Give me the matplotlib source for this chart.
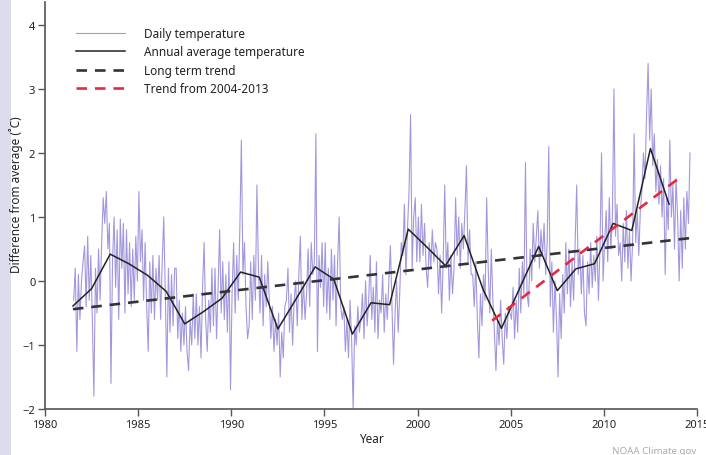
import numpy as np
import matplotlib
matplotlib.use('Agg')
import matplotlib.pyplot as plt
from matplotlib.patches import Rectangle

plt.rcParams['font.family'] = ['Noto Sans', 'DejaVu Sans']

# Monthly readings of the daily temperature anomaly (deg C)
# 1981 starts in July, 2014 ends in August
daily_1981 = [-0.3, 0.2, -1.1, 0.1, -0.6, 0.0]
daily_1982 = [0.3, 0.55, -0.4, 0.7, -0.3, 0.4, -0.6, -1.8, 0.2, -0.5, 0.5, -0.3]
daily_1983 = [0.6, 1.3, 0.9, 1.4, 0.5, 0.9, -1.6, 0.3, 1.0, -0.1, 0.8, -0.6]
daily_1984 = [0.97, 0.2, 0.9, -0.5, 0.8, -0.2, 0.6, -0.4, 0.5, -0.3, 0.7, 0.0]
daily_1985 = [1.4, 0.3, 0.8, -0.3, 0.6, -0.4, -1.1, 0.3, -0.5, 0.4, -0.6, 0.2]
daily_1986 = [-0.3, 0.4, -0.6, 0.3, 1.0, -0.2, -1.5, 0.2, -0.8, 0.1, -0.7, 0.2]
daily_1987 = [0.2, -0.9, -0.3, -1.1, -0.5, -1.0, -0.4, -1.1, -1.4, -0.6, -1.0, -0.2]
daily_1988 = [-0.9, -0.2, -1.0, -0.4, -1.2, -0.1, 0.6, -0.6, -1.1, -0.3, -0.8, 0.2]
daily_1989 = [-0.7, 0.2, -0.9, -0.1, 0.8, -0.5, 0.3, -0.6, 0.1, -0.8, 0.3, -1.7]
daily_1990 = [-0.2, 0.6, -0.5, 0.4, -0.3, 0.8, 2.2, 0.1, 0.6, -0.4, -0.9, -0.7]
daily_1991 = [0.3, -0.6, 0.4, -0.3, 1.5, 0.2, -0.5, 0.4, -0.7, 0.1, -0.4, 0.3]
daily_1992 = [-0.3, -0.9, -0.4, -1.1, -0.6, -1.0, -0.5, -1.5, -0.8, -1.2, -0.4, -0.3]
daily_1993 = [0.2, -0.8, -0.2, -1.0, -0.3, 0.0, -0.7, 0.1, 0.7, -0.6, 0.0, -0.6]
daily_1994 = [-0.2, 0.5, -0.4, 0.6, 0.1, 0.3, 2.3, -1.1, 0.4, -0.1, 0.6, -0.4]
daily_1995 = [0.6, -0.5, 0.2, -0.6, 0.5, -0.3, 0.4, -0.7, 0.3, 1.0, -0.4, -0.6]
daily_1996 = [-0.4, -1.1, -0.6, -1.2, -0.3, -0.9, -2.0, -0.7, -1.0, -0.4, -0.8, -0.6]
daily_1997 = [-0.2, -0.9, 0.0, -0.7, -0.3, 0.4, -0.6, -0.1, -0.8, 0.3, -0.9, -0.3]
daily_1998 = [-0.5, 0.1, -0.8, -0.2, -0.6, 0.0, 0.55, -0.4, -1.3, -0.5, 0.0, -0.8]
daily_1999 = [-0.2, 0.6, 0.4, 1.2, 0.1, 0.8, 1.4, 2.6, 0.2, 1.0, 1.3, 0.3]
daily_2000 = [1.0, 0.3, 1.2, 0.4, 0.9, 0.2, -0.1, 0.6, 0.2, 0.8, 0.3, 0.6]
daily_2001 = [0.5, -0.2, 0.4, -0.5, 0.3, 1.5, 0.2, 0.6, -0.3, 0.4, -0.2, 0.2]
daily_2002 = [1.3, 0.4, 1.0, 0.2, 0.9, 0.5, 1.1, 1.8, 0.3, 0.8, 0.1, 0.1]
daily_2003 = [-0.4, 0.3, -0.6, -1.2, -0.2, -0.7, 0.1, -0.3, 1.3, 0.2, -0.5, 0.5]
daily_2004 = [-0.3, -0.8, -1.4, -0.6, -1.0, -0.3, -0.9, -1.3, -0.5, -0.9, -0.4, -0.5]
daily_2005 = [-0.6, -0.1, -0.9, -0.3, -0.8, 0.2, -0.5, 0.3, -0.2, 1.85, -0.2, -0.4]
daily_2006 = [0.5, 0.0, 0.9, 0.3, 0.7, 1.1, 0.2, 0.8, 0.4, 0.9, 0.1, 0.6]
daily_2007 = [2.1, -0.4, 0.3, -0.8, 0.0, -0.6, -1.5, -0.2, -0.9, 0.1, -0.5, 0.6]
daily_2008 = [-0.2, 0.5, -0.4, 0.3, -0.3, 0.6, 1.5, 0.1, 0.5, -0.2, 0.4, -0.5]
daily_2009 = [-0.7, 0.3, -0.2, 0.6, -0.1, 0.4, 0.0, 0.7, -0.3, 0.5, 2.0, 0.0]
daily_2010 = [0.6, 1.1, 0.3, 1.3, 0.5, 1.0, 3.0, 0.7, 1.2, 0.4, 0.6, 0.0]
daily_2011 = [0.9, 0.3, 1.1, 0.2, 0.8, 0.0, 0.6, 2.3, 0.6, 1.1, 0.4, 1.1]
daily_2012 = [1.4, 2.0, 1.6, 2.6, 3.4, 2.2, 3.0, 1.8, 2.3, 1.4, 1.9, 1.2]
daily_2013 = [1.8, 1.0, 1.6, 0.1, 1.3, 0.8, 2.2, 1.0, 1.5, 0.5, 1.6, 1.0]
daily_2014 = [0.0, 1.1, 0.2, 1.3, 0.5, 1.4, 0.9, 2.0]

# Annual averages (plotted mid-year)
annual_years = list(range(1981, 2014))
annual_values = [-0.39, -0.12, 0.42, 0.27, 0.09, -0.16, -0.67, -0.48, -0.27, 0.14,
                 0.06, -0.75, -0.27, 0.22, 0.03, -0.83, -0.34, -0.37, 0.81, 0.53,
                 0.24, 0.71, -0.12, -0.74, -0.1, 0.54, -0.15, 0.19, 0.27, 0.90,
                 0.79, 2.07, 1.20]

# Trend line end points (year, value)
long_trend_years = [1981.5, 2014.6]
long_trend_values = [-0.44, 0.67]
recent_trend_years = [2004.0, 2014.0]
recent_trend_values = [-0.62, 1.60]

# assemble the monthly series
daily_t = []
daily_v = []
first_month = {1981: 6}
for yr in range(1981, 2015):
    vals = globals()['daily_%d' % yr]
    m0 = first_month.get(yr, 0)
    for i, v in enumerate(vals):
        daily_t.append(yr + (m0 + i + 0.5) / 12.0)
        daily_v.append(v)

fig = plt.figure(figsize=(7.06, 4.56), dpi=100)
fig.patch.set_facecolor('white')
# lavender strip on the left edge
fig.patches.append(Rectangle((0, 0), 11 / 706, 1, transform=fig.transFigure,
                             facecolor='#dcdcee', edgecolor='none', zorder=-5))

ax = fig.add_axes([45 / 706, 1 - 410 / 456, (697 - 45) / 706, (410 - 3) / 456])

ax.plot(daily_t, daily_v, color='#a198de', lw=0.8, label='Daily temperature')
ax.plot(np.array(annual_years) + 0.5, annual_values, color='#222222', lw=1.1,
        label='Annual average temperature')
ax.plot(long_trend_years, long_trend_values, color='#333333', lw=1.9,
        dashes=(4, 3), label='Long term trend')
ax.plot(recent_trend_years, recent_trend_values, color='#e8283c', lw=1.9,
        dashes=(4, 3), label='Trend from 2004-2013')

ax.set_xlim(1980, 2015)
ax.set_ylim(-2, 4.36)
ax.set_xticks(range(1980, 2016, 5))
ax.set_yticks(range(-2, 5))

for s in ['top', 'right']:
    ax.spines[s].set_visible(False)
for s in ['left', 'bottom']:
    ax.spines[s].set_color('#555555')
    ax.spines[s].set_linewidth(1.2)
ax.tick_params(direction='out', length=5, width=1.0, color='#555555',
               labelsize=8, labelcolor='#222222', pad=2)

ax.set_xlabel('Year', fontsize=8.5, color='#222222', labelpad=2)
ax.set_ylabel('Difference from average (˚C)', fontsize=8.5, color='#222222',
              fontweight='bold')
ax.yaxis.set_label_coords(-0.033, 0.53)

leg = ax.legend(loc='upper left', bbox_to_anchor=(0.04, 0.95), frameon=False,
                fontsize=8.5, handlelength=4.2, handletextpad=1.6,
                labelspacing=0.45, borderaxespad=0)
for t in leg.get_texts():
    t.set_color('#222222')

fig.text(612 / 706, 1 - 452 / 456, 'NOAA Climate.gov', fontsize=7,
         color='#aaaaaa', va='center', ha='left')

fig.savefig('out.png', dpi=100)
